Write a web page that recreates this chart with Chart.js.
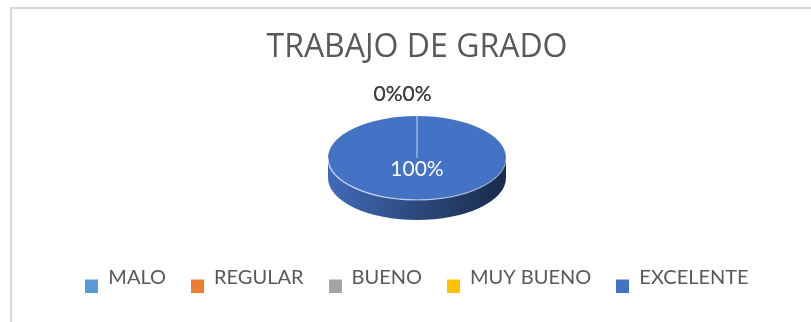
<!DOCTYPE html>
<html>
<head>
<meta charset="utf-8">
<title>Trabajo de grado</title>
<script src="https://cdn.jsdelivr.net/npm/chart.js@4.4.0/dist/chart.umd.min.js"></script>
<style>
  html, body { margin: 0; padding: 0; background: #fff; }
  .wrap { position: relative; width: 811px; height: 322px; overflow: hidden; }
  /* thin frame around the chart object */
  .frame { position: absolute; left: 10px; top: 7px; right: -10px; bottom: -10px;
           border-top: 2px solid #d9d9d9; border-left: 2px solid #d9d9d9; }
  canvas { position: absolute; left: 0; top: 0; }
</style>
</head>
<body>
<div class="wrap">
  <div class="frame"></div>
  <canvas id="gradoChart" width="811" height="322"></canvas>
</div>
<script>
const categories = ['MALO', 'REGULAR', 'BUENO', 'MUY BUENO', 'EXCELENTE'];
const values = [0, 0, 0, 0, 100];
const colors = ['#5B9BD5', '#ED7D31', '#A5A5A5', '#FFC000', '#4472C4'];

const TILT = 0.472;  // vertical squash of the pie top
const DEPTH = 20;    // thickness of the disc
const textGray = '#595959';

function shade(hex, f) {
  const n = parseInt(hex.slice(1), 16);
  const r = Math.round(((n >> 16) & 255) * f);
  const g = Math.round(((n >> 8) & 255) * f);
  const b = Math.round((n & 255) * f);
  return `rgb(${r},${g},${b})`;
}

// legend swatch sitting low, level with the text baseline
function legendSwatch(color) {
  const c = document.createElement('canvas');
  c.width = 13;
  c.height = 29;
  const g = c.getContext('2d');
  g.fillStyle = color;
  g.fillRect(0, 16, 13, 13);
  return c;
}

const pie3d = {
  id: 'pie3d',
  beforeDatasetsDraw(chart) {
    const ctx = chart.ctx;
    const arcs = chart.getDatasetMeta(0).data;
    const {x, y, outerRadius: r} = arcs[0];
    const ry = r * TILT;

    // side wall, only the front half is visible
    arcs.forEach((arc, i) => {
      const color = colors[i];
      [0, -2 * Math.PI].forEach(shift => {
        const a = Math.max(arc.startAngle + shift, 0);
        const b = Math.min(arc.endAngle + shift, Math.PI);
        if (b <= a) return;
        const grad = ctx.createLinearGradient(x - r, 0, x + r, 0);
        grad.addColorStop(0, shade(color, 0.94));
        grad.addColorStop(0.5, shade(color, 0.64));
        grad.addColorStop(1, shade(color, 0.38));
        ctx.save();
        ctx.beginPath();
        ctx.ellipse(x, y, r, ry, 0, a, b);
        ctx.lineTo(x + Math.cos(b) * r, y + Math.sin(b) * ry + DEPTH);
        ctx.ellipse(x, y + DEPTH, r, ry, 0, b, a, true);
        ctx.closePath();
        ctx.fillStyle = grad;
        ctx.fill();
        ctx.restore();
      });
    });

    // the library draws the top face inside this squashed frame
    ctx.save();
    ctx.translate(x, y);
    ctx.scale(1, TILT);
    ctx.translate(-x, -y);
  },
  afterDatasetsDraw(chart) {
    const ctx = chart.ctx;
    ctx.restore();

    const arcs = chart.getDatasetMeta(0).data;
    const {x, y, outerRadius: r} = arcs[0];
    const ry = r * TILT;

    // light rim along the front edge of the top face
    const rim = ctx.createLinearGradient(x - r, 0, x + r, 0);
    rim.addColorStop(0, 'rgba(255,255,255,0.75)');
    rim.addColorStop(1, 'rgba(255,255,255,0.35)');
    ctx.save();
    ctx.beginPath();
    ctx.ellipse(x, y, r, ry, 0, 0, Math.PI);
    ctx.strokeStyle = rim;
    ctx.lineWidth = 1.2;
    ctx.stroke();

    // slice boundary where the empty slices sit
    const a0 = arcs[0].startAngle;
    ctx.beginPath();
    ctx.moveTo(x, y);
    ctx.lineTo(x + Math.cos(a0) * r, y + Math.sin(a0) * ry);
    ctx.strokeStyle = 'rgba(255,255,255,0.7)';
    ctx.lineWidth = 1;
    ctx.stroke();
    ctx.restore();

    // percentage labels
    const total = values.reduce((s, v) => s + v, 0);
    ctx.save();
    ctx.font = '21px Lato';
    ctx.textBaseline = 'middle';
    let zeroCount = 0;
    arcs.forEach((arc, i) => {
      const txt = Math.round(values[i] / total * 100) + '%';
      const mid = (arc.startAngle + arc.endAngle) / 2;
      if (arc.endAngle - arc.startAngle > 0) {
        ctx.fillStyle = '#ffffff';
        ctx.textAlign = 'center';
        ctx.fillText(txt, x + Math.cos(mid) * r * 0.27, y + Math.sin(mid) * r * 0.27 * TILT);
      } else {
        // empty slices stack above the rim, alternating left of the anchor
        const w = ctx.measureText(txt).width;
        const lx = x + Math.cos(mid) * (r + 22) - (zeroCount++ % 2 ? 0 : w);
        const ly = y + Math.sin(mid) * (ry + 22);
        ctx.fillStyle = '#404040';
        ctx.textAlign = 'center';
        ctx.fillText(txt, lx, ly);
      }
    });
    ctx.restore();
  }
};

const ctx = document.getElementById('gradoChart').getContext('2d');
new Chart(ctx, {
  type: 'pie',
  data: {
    labels: categories,
    datasets: [{
      data: values,
      backgroundColor: colors,
      borderWidth: 0,
      radius: 89
    }]
  },
  options: {
    responsive: false,
    animation: false,
    layout: { padding: { top: 10, bottom: 24, left: 23, right: 0 } },
    plugins: {
      tooltip: { enabled: false },
      title: {
        display: true,
        text: 'TRABAJO DE GRADO',
        color: textGray,
        font: { family: 'Open Sans', size: 32, weight: 'normal' },
        padding: { top: 18.5, bottom: 6 }
      },
      legend: {
        position: 'bottom',
        labels: {
          usePointStyle: true,
          boxWidth: 13,
          boxHeight: 13,
          padding: 25,
          color: textGray,
          font: { family: 'Lato', size: 20 },
          generateLabels: () => categories.map((c, i) => ({
            text: c,
            pointStyle: legendSwatch(colors[i]),
            fillStyle: colors[i],
            strokeStyle: colors[i],
            lineWidth: 0,
            fontColor: textGray,
            hidden: false,
            index: i
          }))
        }
      }
    }
  },
  plugins: [pie3d]
});
</script>
</body>
</html>
